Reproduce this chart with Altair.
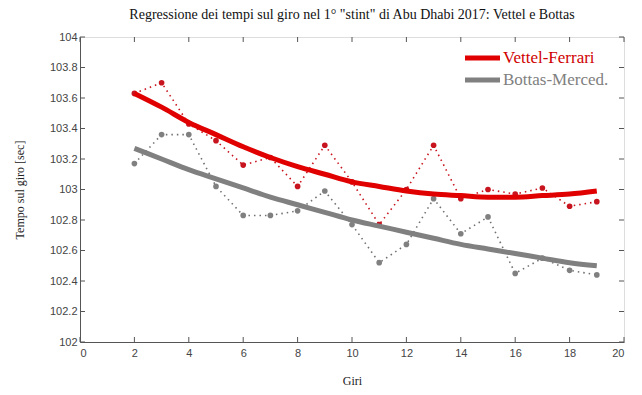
import altair as alt
import pandas as pd

laps = list(range(2, 20))
vettel = [103.63, 103.70, 103.43, 103.32, 103.16, 103.21, 103.02, 103.29, 103.05,
          102.77, 103.00, 103.29, 102.94, 103.00, 102.97, 103.01, 102.89, 102.92]
bottas = [103.17, 103.36, 103.36, 103.02, 102.83, 102.83, 102.86, 102.99, 102.77,
          102.52, 102.64, 102.94, 102.71, 102.82, 102.45, 102.55, 102.47, 102.44]
vettel_fit = [103.63, 103.54, 103.44, 103.36, 103.28, 103.21, 103.15, 103.10, 103.05,
              103.02, 102.99, 102.97, 102.96, 102.95, 102.95, 102.96, 102.97, 102.99]
bottas_fit = [103.27, 103.20, 103.13, 103.07, 103.01, 102.95, 102.90, 102.85, 102.80,
              102.76, 102.72, 102.68, 102.64, 102.61, 102.58, 102.55, 102.52, 102.50]
drivers = ["Vettel-Ferrari", "Bottas-Merced."]
x_ticks = list(range(0, 21, 2))
y_ticks = [102.0, 102.2, 102.4, 102.6, 102.8, 103.0, 103.2, 103.4, 103.6, 103.8, 104.0]

W, H = 544, 305
RED, RED_DARK, GRAY, GRAY_DARK = "#e00000", "#c8141e", "#808080", "#707070"

df = pd.DataFrame({
    "lap": laps * 2,
    "time": vettel + bottas,
    "fit": vettel_fit + bottas_fit,
    "driver": [drivers[0]] * len(laps) + [drivers[1]] * len(laps),
})

xs = alt.Scale(domain=[0, 20], nice=False)
ys = alt.Scale(domain=[102, 104], nice=False, zero=False)
lab = dict(labelFont="Liberation Sans", labelFontSize=11, labelColor="#444",
           ticks=False, grid=False, domainColor="#555", titleFont="Liberation Serif",
           titleFontSize=12, titleFontWeight="normal", titleColor="#222",
           labelOverlap=False)
xax = alt.Axis(values=x_ticks, title="Giri", labelPadding=5, titlePadding=17, **lab)
yax = alt.Axis(values=y_ticks, title="Tempo sul giro [sec]", format=".1~f",
               labelPadding=3, titlePadding=23, **lab)


def X(f):
    return alt.X(f, scale=xs, axis=xax)


def Y(f):
    return alt.Y(f, scale=ys, axis=yax)


base = alt.Chart(df)
layers = []
for d, cdot, cpt in [(drivers[1], GRAY_DARK, GRAY), (drivers[0], RED_DARK, RED_DARK)]:
    sub = base.transform_filter(alt.datum.driver == d)
    layers.append(sub.mark_line(strokeDash=[1.5, 4], strokeWidth=1.6, color=cdot).encode(
        x=X("lap:Q"), y=Y("time:Q")))
    layers.append(sub.mark_circle(size=32, opacity=1, color=cpt).encode(
        x=X("lap:Q"), y=Y("time:Q")))

fit = base.mark_line(strokeWidth=5, interpolate="monotone").encode(
    x=X("lap:Q"),
    y=Y("fit:Q"),
    color=alt.Color("driver:N", sort=drivers,
                    scale=alt.Scale(domain=drivers, range=[RED, GRAY]),
                    legend=None),
)

# manual legend (top-right, inside the plot)
leg_df = pd.DataFrame({"driver": drivers})
legend_layers = []
for d, lc, tc, yy in [(drivers[0], RED, "#d00000", 21), (drivers[1], GRAY, "#808080", 43)]:
    sub = alt.Chart(leg_df).transform_filter(alt.datum.driver == d)
    legend_layers.append(sub.mark_rule(color=lc, strokeWidth=5).encode(
        x=alt.value(385), x2=alt.value(420), y=alt.value(yy)))
    legend_layers.append(sub.mark_text(align="left", baseline="middle", font="Liberation Serif",
                                       fontSize=17, color=tc).encode(
        x=alt.value(423), y=alt.value(yy), text="driver:N"))

xt = pd.DataFrame({"t": x_ticks})
yt = pd.DataFrame({"t": y_ticks})
tk = dict(color="#555", strokeWidth=1)
ticks = [
    alt.Chart(xt).mark_rule(**tk).encode(x=X("t:Q"), y=alt.value(H), y2=alt.value(H - 5)),
    alt.Chart(xt).mark_rule(**tk).encode(x=X("t:Q"), y=alt.value(0), y2=alt.value(5)),
    alt.Chart(yt).mark_rule(**tk).encode(y=Y("t:Q"), x=alt.value(0), x2=alt.value(5)),
    alt.Chart(yt).mark_rule(**tk).encode(y=Y("t:Q"), x=alt.value(W), x2=alt.value(W - 5)),
]

chart = alt.layer(*layers, fit, *ticks, *legend_layers).properties(
    width=W, height=H,
    title=alt.Title("Regressione dei tempi sul giro nel 1° \"stint\" di Abu Dhabi 2017: Vettel e Bottas",
                    font="Liberation Serif", fontSize=14, fontWeight="normal", color="#111",
                    anchor="middle", offset=9),
    autosize=alt.AutoSizeParams(type="none"),
    padding={"left": 72, "top": 29, "right": 10, "bottom": 52},
).configure_view(stroke="#555", strokeWidth=1).configure(background="white").configure_axis(
    labelOverlap=False)

chart.save("out.html", embed_options={"renderer": "svg", "actions": False})
